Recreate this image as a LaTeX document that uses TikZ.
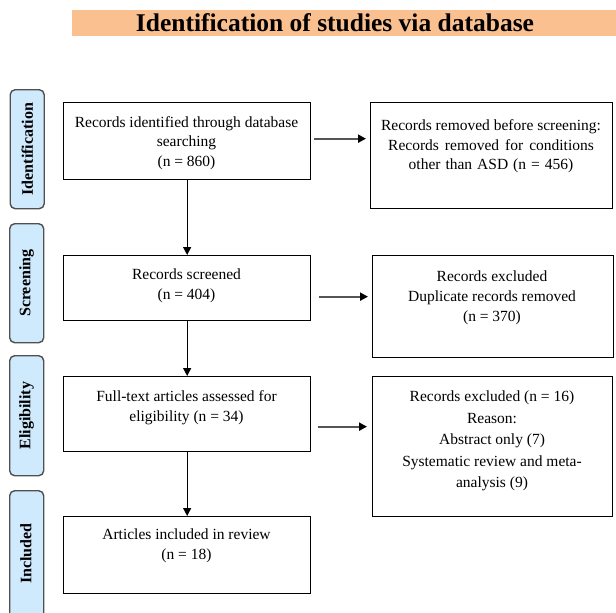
\documentclass[tikz,border=0pt]{standalone}
\usepackage{fontspec}
\setmainfont{Liberation Serif}
\usetikzlibrary{arrows.meta}
\definecolor{titlefill}{RGB}{250,192,143}
\definecolor{sidefill}{RGB}{207,233,253}
\definecolor{sidedraw}{RGB}{80,80,80}
\definecolor{arrgray}{RGB}{85,85,85}
\begin{document}
\begin{tikzpicture}[x=1pt,y=-1pt,
  box/.style={draw=black,line width=1.3pt,inner sep=0pt,anchor=north west},
  side/.style={draw=sidedraw,fill=sidefill,line width=1.4pt,rounded corners=5pt,inner sep=0pt,anchor=north west,minimum width=34pt},
  sidetxt/.style={font=\fontsize{16}{18}\selectfont\bfseries,rotate=90,inner sep=0pt},
  txt/.style={font=\fontsize{15.5}{19.5}\selectfont,align=center,inner sep=0pt},
  varrow/.style={draw=black,line width=1.3pt,-{Triangle[length=8pt,width=8pt]}},
  harrow/.style={draw=arrgray,line width=2pt,-{Triangle[length=8pt,width=8pt,color=black]}}
]
\useasboundingbox (0,0) rectangle (616,613);
\clip (0,0) rectangle (616,613);
% title
\node[fill=titlefill,inner sep=0pt,anchor=north west,minimum width=544pt,minimum height=26pt] (title) at (72,10) {};
\node[font=\fontsize{25.5}{26}\selectfont\bfseries,inner sep=0pt] (titletxt) at (335,23) {Identification of studies via database};
% side labels
\node[side,minimum height=119pt] (s1) at (9.5,89) {};
\node[sidetxt] (s1t) at (s1.center) {Identification};
\node[side,minimum height=119pt] (s2) at (9,223) {};
\node[sidetxt] (s2t) at (s2.center) {Screening};
\node[side,minimum height=120pt] (s3) at (9,355) {};
\node[sidetxt] (s3t) at (s3.center) {Eligibility};
\node[side,minimum height=140pt] (s4) at (9,490) {};
\node[sidetxt] (s4t) at (26,553.5) {Included};
% left boxes
\node[box,minimum width=247pt,minimum height=77pt] (b1) at (63,102) {};
\node[txt] (b1t) at (186.5,143) {Records identified through database\\searching\\(n = 860)};
\node[box,minimum width=247pt,minimum height=65pt] (b2) at (63,255) {};
\node[txt,font=\fontsize{15.5}{20}\selectfont] (b2t) at (186.5,286) {Records screened\\(n = 404)};
\node[box,minimum width=247pt,minimum height=75pt] (b3) at (63,376) {};
\node[txt,font=\fontsize{15.5}{20}\selectfont] (b3t) at (186.5,408) {Full-text articles assessed for\\eligibility (n = 34)};
\node[box,minimum width=247pt,minimum height=77pt] (b4) at (63,516) {};
\node[txt,font=\fontsize{15.5}{20}\selectfont] (b4t) at (186.5,546) {Articles included in review\\(n = 18)};
% right boxes
\node[box,minimum width=242pt,minimum height=106pt] (r1) at (370,102) {};
\node[txt] (r1t) at (491,146.5) {Records removed before screening:\\{\spaceskip=6pt plus 1pt Records removed for conditions}\\{\spaceskip=5pt plus 1pt other than ASD (n = 456)}};
\node[box,minimum width=241pt,minimum height=102pt] (r2) at (372,255) {};
\node[txt,font=\fontsize{15.5}{20}\selectfont] (r2t) at (492,298) {Records excluded\\Duplicate records removed\\(n = 370)};
\node[box,minimum width=240pt,minimum height=140pt] (r3) at (372,376) {};
\node[txt,font=\fontsize{15.5}{21.5}\selectfont] (r3t) at (492,441) {Records excluded (n = 16)\\Reason:\\Abstract only (7)\\Systematic review and meta-\\analysis (9)};
% vertical arrows
\draw[varrow] (b1.south) -- (b2.north);
\draw[varrow] (b2.south) -- (b3.north);
\draw[varrow] (b3.south) -- (b4.north);
% horizontal arrows
\draw[harrow] ([xshift=3pt,yshift=2.5pt]b1.east) -- ([xshift=-4pt,yshift=2.5pt]b1.east -| r1.west);
\draw[harrow] ([xshift=8pt,yshift=-8.5pt]b2.east) -- ([xshift=-4pt,yshift=-8.5pt]b2.east -| r2.west);
\draw[harrow] ([xshift=7pt,yshift=-12.5pt]b3.east) -- ([xshift=-5pt,yshift=-12.5pt]b3.east -| r3.west);
\end{tikzpicture}
\end{document}
